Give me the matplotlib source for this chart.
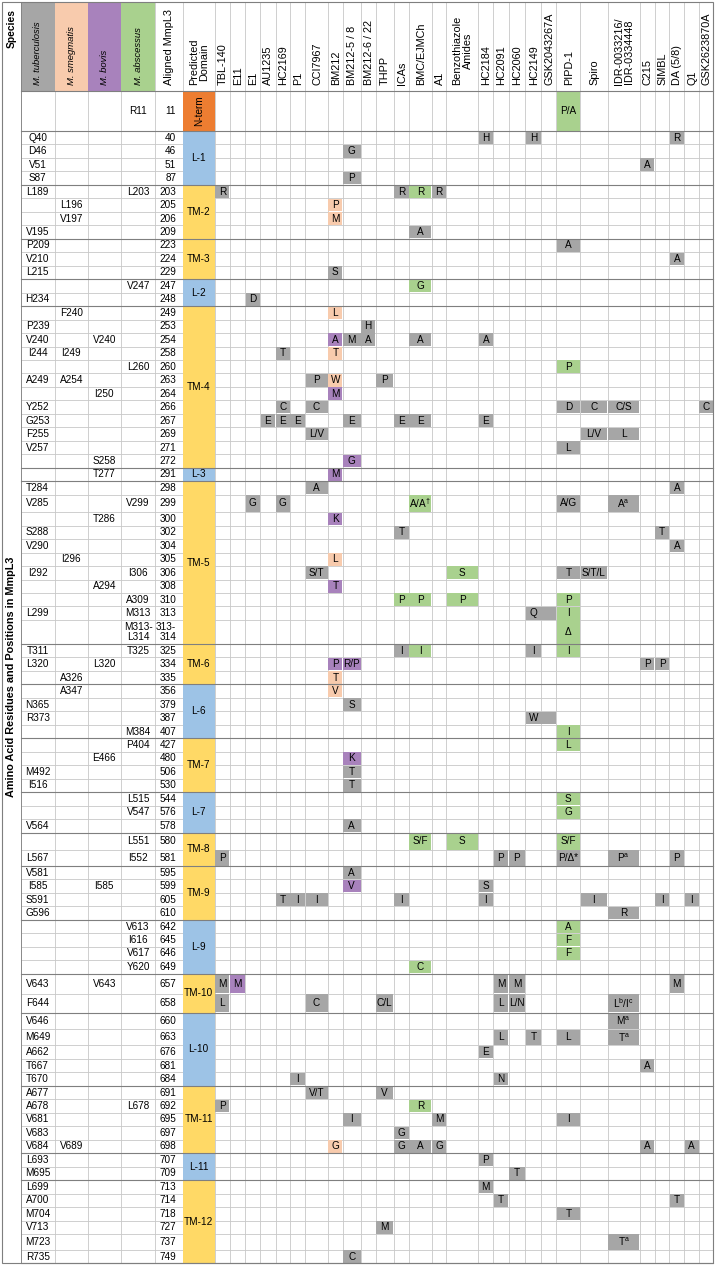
import matplotlib
matplotlib.use("Agg")
import matplotlib.pyplot as plt
from matplotlib.patches import Rectangle

plt.rcParams["font.family"] = ["Liberation Sans", "DejaVu Sans"]
plt.rcParams["mathtext.fontset"] = "custom"
plt.rcParams["mathtext.rm"] = "Liberation Sans"
plt.rcParams["mathtext.it"] = "Liberation Sans:italic"
plt.rcParams["mathtext.bf"] = "Liberation Sans:bold"

# ---- data ---------------------------------------------------------------
species = ["M. tuberculosis", "M. smegmatis", "M. bovis", "M. abscessus"]

drugs = ["TBL-140", "E11", "E1", "AU1235", "HC2169", "P1", "CCI7967", "BM212",
         "BM212-5 / 8", "BM212-6 / 22", "THPP", "ICAs", "BMC/EJMCh", "A1",
         "Benzothiazole\nAmides", "HC2184", "HC2091", "HC2060", "HC2149",
         "GSK2043267A", "PIPD-1", "Spiro", "IDR-0033216/\nIDR-0334448", "C215",
         "SIMBL", "DA (5/8)", "Q1", "GSK2623870A"]

aligned = ["11", "40", "46", "51", "87", "203", "205", "206", "209", "223", "224",
           "229", "247", "248", "249", "253", "254", "258", "260", "263", "264",
           "266", "267", "269", "271", "272", "291", "298", "299", "300", "302",
           "304", "305", "306", "308", "310", "313", "313-\n314", "325", "334",
           "335", "356", "379", "387", "407", "427", "480", "506", "530", "544",
           "576", "578", "580", "581", "595", "599", "605", "610", "642", "645",
           "646", "649", "657", "658", "660", "663", "676", "681", "684", "691",
           "692", "695", "697", "698", "707", "709", "713", "714", "718", "727",
           "737", "749"]

mtb = {"40": "Q40", "46": "D46", "51": "V51", "87": "S87", "203": "L189",
       "209": "V195", "223": "P209", "224": "V210", "229": "L215", "248": "H234",
       "253": "P239", "254": "V240", "258": "I244", "263": "A249", "266": "Y252",
       "267": "G253", "269": "F255", "271": "V257", "298": "T284", "299": "V285",
       "302": "S288", "304": "V290", "306": "I292", "313": "L299", "325": "T311",
       "334": "L320", "379": "N365", "387": "R373", "506": "M492", "530": "I516",
       "578": "V564", "581": "L567", "595": "V581", "599": "I585", "605": "S591",
       "610": "G596", "657": "V643", "658": "F644", "660": "V646", "663": "M649",
       "676": "A662", "681": "T667", "684": "T670", "691": "A677", "692": "A678",
       "695": "V681", "697": "V683", "698": "V684", "707": "L693", "709": "M695",
       "713": "L699", "714": "A700", "718": "M704", "727": "V713", "737": "M723",
       "749": "R735"}
msm = {"205": "L196", "206": "V197", "249": "F240", "258": "I249", "263": "A254",
       "305": "I296", "335": "A326", "356": "A347", "698": "V689"}
mbo = {"254": "V240", "264": "I250", "272": "S258", "291": "T277", "300": "T286",
       "308": "A294", "334": "L320", "480": "E466", "599": "I585", "657": "V643"}
mab = {"11": "R11", "203": "L203", "247": "V247", "260": "L260", "299": "V299",
       "306": "I306", "310": "A309", "313": "M313", "313-\n314": "M313-\nL314",
       "325": "T325", "407": "M384", "427": "P404", "544": "L515", "576": "V547",
       "580": "L551", "581": "I552", "642": "V613", "645": "I616", "646": "V617",
       "649": "Y620", "692": "L678"}

# (label, first row, last row, kind)
domains = [("N-term", "11", "11", "N"), ("L-1", "40", "87", "L"),
           ("TM-2", "203", "209", "TM"), ("TM-3", "223", "229", "TM"),
           ("L-2", "247", "248", "L"), ("TM-4", "249", "272", "TM"),
           ("L-3", "291", "291", "L"), ("TM-5", "298", "313-\n314", "TM"),
           ("TM-6", "325", "335", "TM"), ("L-6", "356", "407", "L"),
           ("TM-7", "427", "530", "TM"), ("L-7", "544", "578", "L"),
           ("TM-8", "580", "581", "TM"), ("TM-9", "595", "610", "TM"),
           ("L-9", "642", "649", "L"), ("TM-10", "657", "658", "TM"),
           ("L-10", "660", "684", "L"), ("TM-11", "691", "698", "TM"),
           ("L-11", "707", "709", "L"), ("TM-12", "713", "749", "TM")]

# (row, drug, text, species code[, columns spanned])
mutations = [
    ("11", "PIPD-1", "P/A", "a"),
    ("40", "HC2184", "H", "t"), ("40", "HC2149", "H", "t"), ("40", "DA (5/8)", "R", "t"),
    ("46", "BM212-5 / 8", "G", "t"), ("51", "C215", "A", "t"), ("87", "BM212-5 / 8", "P", "t"),
    ("203", "TBL-140", "R", "t"), ("203", "ICAs", "R", "t"), ("203", "BMC/EJMCh", "R", "a"),
    ("203", "A1", "R", "t"),
    ("205", "BM212", "P", "s"), ("206", "BM212", "M", "s"), ("209", "BMC/EJMCh", "A", "t"),
    ("223", "PIPD-1", "A", "t"), ("224", "DA (5/8)", "A", "t"), ("229", "BM212", "S", "t"),
    ("247", "BMC/EJMCh", "G", "a"), ("248", "E1", "D", "t"), ("249", "BM212", "L", "s"),
    ("253", "BM212-6 / 22", "H", "t"),
    ("254", "BM212", "A", "b"), ("254", "BM212-5 / 8", "M", "t"), ("254", "BM212-6 / 22", "A", "t"),
    ("254", "BMC/EJMCh", "A", "t"), ("254", "HC2184", "A", "t"),
    ("258", "HC2169", "T", "t"), ("258", "BM212", "T", "s"), ("260", "PIPD-1", "P", "a"),
    ("263", "CCI7967", "P", "t"), ("263", "BM212", "W", "s"), ("263", "THPP", "P", "t"),
    ("264", "BM212", "M", "b"),
    ("266", "HC2169", "C", "t"), ("266", "CCI7967", "C", "t"), ("266", "PIPD-1", "D", "t"),
    ("266", "Spiro", "C", "t"), ("266", "IDR-0033216/", "C/S", "t"), ("266", "GSK2623870A", "C", "t"),
    ("267", "AU1235", "E", "t"), ("267", "HC2169", "E", "t"), ("267", "P1", "E", "t"),
    ("267", "BM212-5 / 8", "E", "t"), ("267", "ICAs", "E", "t"), ("267", "BMC/EJMCh", "E", "t"),
    ("267", "HC2184", "E", "t"),
    ("269", "CCI7967", "L/V", "t"), ("269", "Spiro", "L/V", "t"), ("269", "IDR-0033216/", "L", "t"),
    ("271", "PIPD-1", "L", "t"), ("272", "BM212-5 / 8", "G", "b"), ("291", "BM212", "M", "b"),
    ("298", "CCI7967", "A", "t"), ("298", "DA (5/8)", "A", "t"),
    ("299", "E1", "G", "t"), ("299", "HC2169", "G", "t"), ("299", "BMC/EJMCh", r"A/A$^{\dagger}$", "a"),
    ("299", "PIPD-1", "A/G", "t"), ("299", "IDR-0033216/", r"A$^{\rm a}$", "t"),
    ("300", "BM212", "K", "b"), ("302", "ICAs", "T", "t"), ("302", "SIMBL", "T", "t"),
    ("304", "DA (5/8)", "A", "t"), ("305", "BM212", "L", "s"),
    ("306", "CCI7967", "S/T", "t"), ("306", "Benzothiazole", "S", "a"), ("306", "PIPD-1", "T", "t"),
    ("306", "Spiro", "S/T/L", "t"), ("308", "BM212", "T", "b"),
    ("310", "ICAs", "P", "a"), ("310", "BMC/EJMCh", "P", "a"), ("310", "Benzothiazole", "P", "a"),
    ("310", "PIPD-1", "P", "a"),
    ("313", "HC2149", "Q", "t", 2), ("313", "PIPD-1", "I", "a"), ("313-\n314", "PIPD-1", "Δ", "a"),
    ("325", "ICAs", "I", "t"), ("325", "BMC/EJMCh", "I", "a"), ("325", "HC2149", "I", "t"),
    ("325", "PIPD-1", "I", "a"),
    ("334", "BM212", "P", "b"), ("334", "BM212-5 / 8", "R/P", "b"), ("334", "C215", "P", "t"),
    ("334", "SIMBL", "P", "t"),
    ("335", "BM212", "T", "s"), ("356", "BM212", "V", "s"), ("379", "BM212-5 / 8", "S", "t"),
    ("387", "HC2149", "W", "t", 2), ("407", "PIPD-1", "I", "a"), ("427", "PIPD-1", "L", "a"),
    ("480", "BM212-5 / 8", "K", "b"), ("506", "BM212-5 / 8", "T", "t"), ("530", "BM212-5 / 8", "T", "t"),
    ("544", "PIPD-1", "S", "a"), ("576", "PIPD-1", "G", "a"), ("578", "BM212-5 / 8", "A", "t"),
    ("580", "BMC/EJMCh", "S/F", "a"), ("580", "Benzothiazole", "S", "a"), ("580", "PIPD-1", "S/F", "a"),
    ("581", "TBL-140", "P", "t"), ("581", "HC2091", "P", "t"), ("581", "HC2060", "P", "t"),
    ("581", "PIPD-1", "P/Δ*", "t"), ("581", "IDR-0033216/", r"P$^{\rm a}$", "t"), ("581", "DA (5/8)", "P", "t"),
    ("595", "BM212-5 / 8", "A", "t"), ("599", "BM212-5 / 8", "V", "b"), ("599", "HC2184", "S", "t"),
    ("605", "HC2169", "T", "t"), ("605", "P1", "I", "t"), ("605", "CCI7967", "I", "t"),
    ("605", "ICAs", "I", "t"), ("605", "HC2184", "I", "t"), ("605", "Spiro", "I", "t"),
    ("605", "SIMBL", "I", "t"), ("605", "Q1", "I", "t"),
    ("610", "IDR-0033216/", "R", "t"),
    ("642", "PIPD-1", "A", "a"), ("645", "PIPD-1", "F", "a"), ("646", "PIPD-1", "F", "a"),
    ("649", "BMC/EJMCh", "C", "a"),
    ("657", "TBL-140", "M", "t"), ("657", "E11", "M", "b"), ("657", "HC2091", "M", "t"),
    ("657", "HC2060", "M", "t"), ("657", "DA (5/8)", "M", "t"),
    ("658", "TBL-140", "L", "t"), ("658", "CCI7967", "C", "t"), ("658", "THPP", "C/L", "t"),
    ("658", "HC2091", "L", "t"), ("658", "HC2060", "L/N", "t"),
    ("658", "IDR-0033216/", r"L$^{\rm b}$/I$^{\rm c}$", "t"),
    ("660", "IDR-0033216/", r"M$^{\rm a}$", "t"),
    ("663", "HC2091", "L", "t"), ("663", "HC2149", "T", "t"), ("663", "PIPD-1", "L", "t"),
    ("663", "IDR-0033216/", r"T$^{\rm a}$", "t"),
    ("676", "HC2184", "E", "t"), ("681", "C215", "A", "t"),
    ("684", "P1", "I", "t"), ("684", "HC2091", "N", "t"),
    ("691", "CCI7967", "V/T", "t"), ("691", "THPP", "V", "t"),
    ("692", "TBL-140", "P", "t"), ("692", "BMC/EJMCh", "R", "a"),
    ("695", "BM212-5 / 8", "I", "t"), ("695", "A1", "M", "t"), ("695", "PIPD-1", "I", "t"),
    ("697", "ICAs", "G", "t"),
    ("698", "BM212", "G", "s"), ("698", "ICAs", "G", "t"), ("698", "BMC/EJMCh", "A", "t"),
    ("698", "A1", "G", "t"), ("698", "C215", "A", "t"), ("698", "Q1", "A", "t"),
    ("707", "HC2184", "P", "t"), ("709", "HC2060", "T", "t"), ("713", "HC2184", "M", "t"),
    ("714", "HC2091", "T", "t"), ("714", "DA (5/8)", "T", "t"), ("718", "PIPD-1", "T", "t"),
    ("727", "THPP", "M", "t"), ("737", "IDR-0033216/", r"T$^{\rm a}$", "t"),
    ("749", "BM212-5 / 8", "C", "t"),
]

# ---- styling / layout ---------------------------------------------------
SP_COLORS = {"t": "#A6A6A6", "s": "#F8CBAD", "b": "#A882BC", "a": "#A9D18E"}
DOM_COLORS = {"N": "#ED7D31", "L": "#9DC3E6", "TM": "#FFD966"}
GRID = "#C8C8C8"
SECTION = "#7F7F7F"
FS = 7.2
HFS = 7.8

left_edges = [2.0, 20.5, 54.8, 87.7, 121.0, 155.3, 182.7, 214.7]
drug_w = [15.1, 15.5, 15.1, 15.1, 14.5, 15.2, 22.8, 14.6, 18.3, 14.6, 18.3, 15.1,
          22.8, 14.6, 32.0, 15.1, 15.1, 16.8, 16.0, 15.1, 23.8, 27.4, 32.0, 15.1,
          14.6, 15.1, 14.6, 14.0]
x_edges = list(left_edges)
for w in drug_w:
    x_edges.append(x_edges[-1] + w)
X_RIGHT = x_edges[-1]
X_TAB = left_edges[1]

HEAD_TOP, HEAD_BOT = 2.0, 91.0
ROW_H = 13.47
tall = {"11": 40.0, "299": 17.5, "313-\n314": 24.0, "580": 17.4, "581": 16.0,
        "657": 20.0, "658": 19.0, "660": 16.7, "663": 16.0, "737": 16.0}
y_edges = [HEAD_BOT]
for a in aligned:
    y_edges.append(y_edges[-1] + tall.get(a, ROW_H))
Y_BOT = y_edges[-1]
row_of = {a: i for i, a in enumerate(aligned)}
drug_col = {d.split("\n")[0]: 7 + i for i, d in enumerate(drugs)}

fig = plt.figure(figsize=(7.15, 12.66), dpi=100)
ax = fig.add_axes([0, 0, 1, 1])
ax.set_xlim(0, 715)
ax.set_ylim(1266, 0)
ax.axis("off")

# light grid
for x in x_edges[1:-1]:
    ax.plot([x, x], [HEAD_TOP, Y_BOT], color=GRID, lw=0.6, zorder=1)
for y in y_edges[1:-1]:
    ax.plot([X_TAB, X_RIGHT], [y, y], color=GRID, lw=0.6, zorder=1)

# species header boxes
for k, (name, code) in enumerate(zip(species, "tsba")):
    x0, x1 = x_edges[1 + k], x_edges[2 + k]
    ax.add_patch(Rectangle((x0, HEAD_TOP), x1 - x0, HEAD_BOT - HEAD_TOP,
                           facecolor=SP_COLORS[code], edgecolor="none", zorder=2))
    ax.text((x0 + x1) / 2, 85, name, rotation=90, ha="center", va="bottom",
            fontsize=HFS - 1.0, style="italic", zorder=4)

# other header labels
heads = ["Aligned MmpL3", "Predicted\nDomain"] + drugs
for k, h in enumerate(heads):
    x0, x1 = x_edges[5 + k], x_edges[6 + k]
    ax.text((x0 + x1) / 2 + 0.5, 85, h, rotation=90, ha="center", va="bottom",
            fontsize=HFS, multialignment="center", linespacing=1.05, zorder=4)
ax.text((left_edges[0] + left_edges[1]) / 2, 28, "Species", rotation=90,
        ha="center", va="center", fontsize=HFS - 0.4, fontweight="bold")
ax.text((left_edges[0] + left_edges[1]) / 2, (HEAD_BOT + Y_BOT) / 2,
        "Amino Acid Residues and Positions in MmpL3", rotation=90,
        ha="center", va="center", fontsize=HFS, fontweight="bold")

# residue labels per species + aligned position
for i, a in enumerate(aligned):
    yc = (y_edges[i] + y_edges[i + 1]) / 2
    for k, col in enumerate([mtb, msm, mbo, mab]):
        if a in col:
            ax.text((x_edges[1 + k] + x_edges[2 + k]) / 2, yc, col[a], ha="center",
                    va="center", fontsize=FS, linespacing=1.1, zorder=4)
    ax.text(x_edges[6] - 6.5, yc, a, ha="right", va="center", fontsize=FS,
            linespacing=1.1, zorder=4)

# predicted domains
dx0, dx1 = x_edges[6], x_edges[7]
for name, first, last, kind in domains:
    y0, y1 = y_edges[row_of[first]], y_edges[row_of[last] + 1]
    ax.add_patch(Rectangle((dx0, y0), dx1 - dx0, y1 - y0,
                           facecolor=DOM_COLORS[kind], edgecolor="none", zorder=2))
    ax.text((dx0 + dx1) / 2, (y0 + y1) / 2, name, ha="center", va="center",
            fontsize=FS, rotation=90 if kind == "N" else 0, zorder=4)

# resistance mutations
for m in mutations:
    a, drug, txt, sp = m[:4]
    span = m[4] if len(m) > 4 else 1
    i, c = row_of[a], drug_col[drug]
    x0, x1 = x_edges[c], x_edges[c + span]
    y0, y1 = y_edges[i], y_edges[i + 1]
    ax.add_patch(Rectangle((x0 + 0.4, y0 + 0.4), x1 - x0 - 0.8, y1 - y0 - 0.8,
                           facecolor=SP_COLORS[sp], edgecolor="none", zorder=2))
    xc = (x_edges[c] + x_edges[c + 1]) / 2
    ax.text(xc, (y0 + y1) / 2, txt, ha="center", va="center", fontsize=FS, zorder=4)

# section lines between domains
ax.plot([X_TAB, X_RIGHT], [HEAD_BOT, HEAD_BOT], color=SECTION, lw=0.8, zorder=3)
for name, first, last, kind in domains:
    y1 = y_edges[row_of[last] + 1]
    ax.plot([X_TAB, X_RIGHT], [y1, y1], color=SECTION, lw=0.8, zorder=3)
ax.plot([X_TAB, X_TAB], [HEAD_TOP, Y_BOT], color=SECTION, lw=0.6, zorder=3)
ax.add_patch(Rectangle((left_edges[0], HEAD_TOP), X_RIGHT - left_edges[0],
                       Y_BOT - HEAD_TOP, facecolor="none", edgecolor=SECTION,
                       lw=0.8, zorder=5))

fig.savefig("out.png", dpi=100)
